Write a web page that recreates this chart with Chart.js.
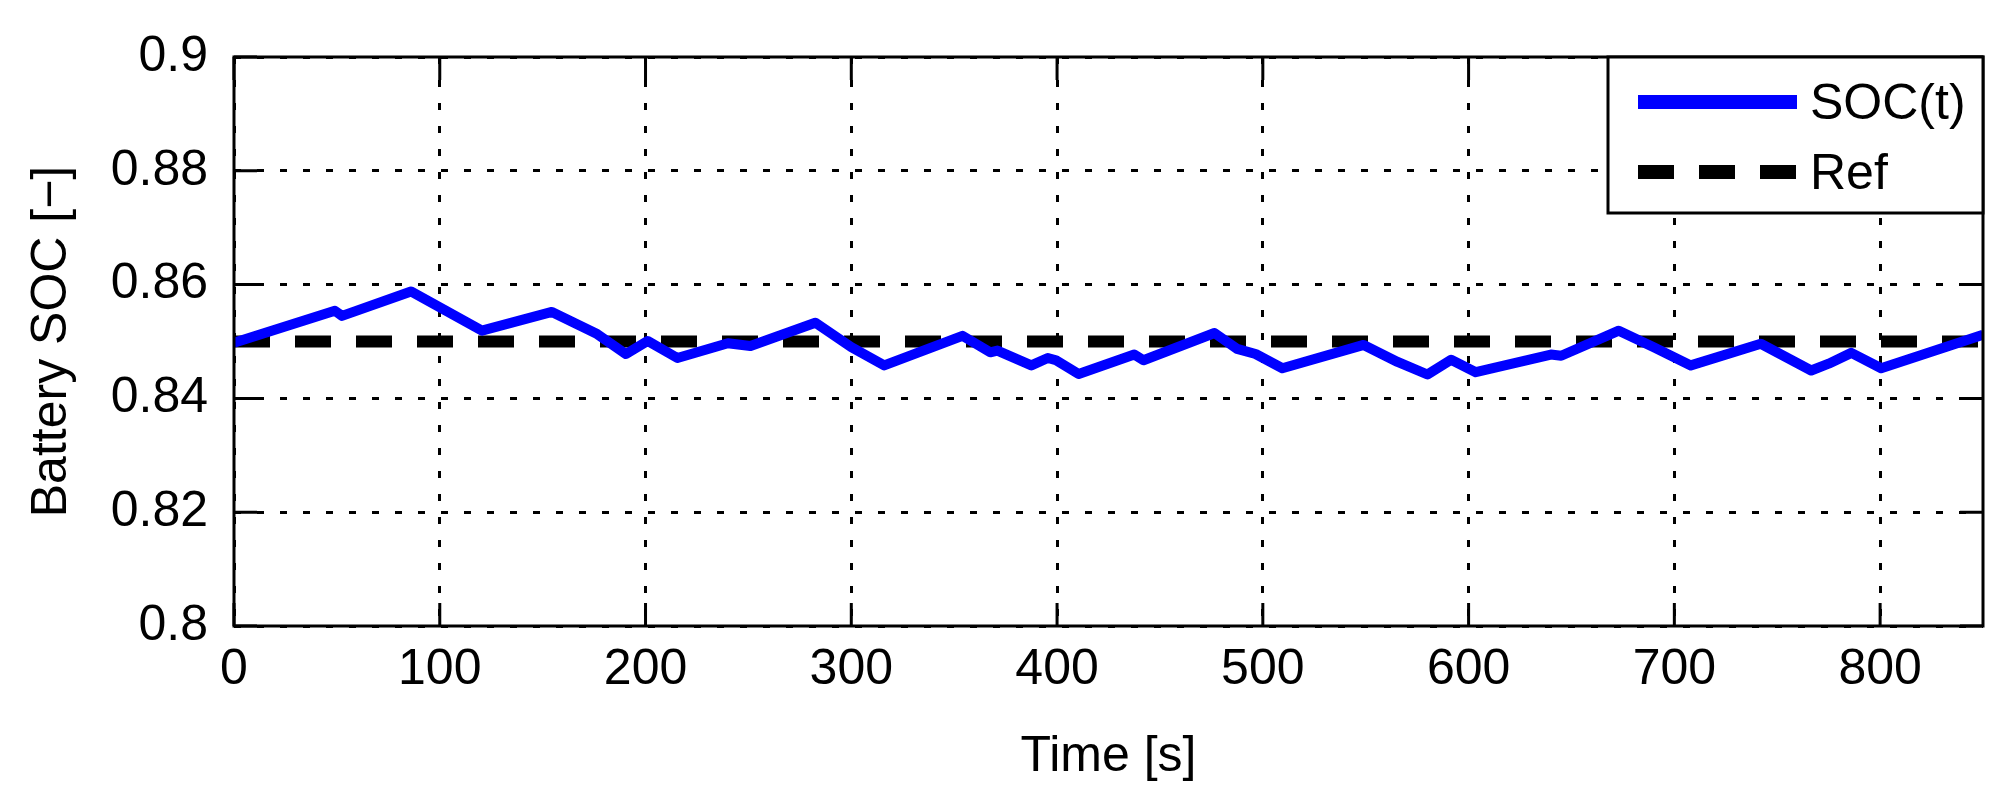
<!DOCTYPE html>
<html>
<head>
<meta charset="utf-8">
<style>
    html, body { margin: 0; padding: 0; background: #fff; }
    #wrap { width: 2003px; height: 807px; }
</style>
<script src="https://cdn.jsdelivr.net/npm/chart.js@4.4.1/dist/chart.umd.min.js"></script>
</head>
<body>
<div id="wrap"><canvas id="socChart" width="2003" height="807"></canvas></div>
<script>
// Data
const timeS = [0, 49, 52.5, 86, 120.5, 154.5, 176.5, 190.5, 201, 215.5, 240, 251, 282.5, 300, 316,
    354, 367.5, 371, 387.5, 395.5, 399.5, 410.5, 437.5, 442, 476.5, 487.5, 496.5, 509.5, 549,
    565.5, 580, 591.5, 603.5, 640, 645, 673, 690, 708, 742, 766.5, 775, 786, 800.5, 850];
const socValues = [0.8498, 0.8554, 0.8545, 0.8588, 0.8519, 0.8552, 0.8513, 0.8478, 0.8501, 0.8471, 0.8497, 0.8492, 0.8533, 0.8490, 0.8458,
    0.8510, 0.8481, 0.8484, 0.8458, 0.8471, 0.8467, 0.8443, 0.8477, 0.8467, 0.8515, 0.8487, 0.8478, 0.8453, 0.8494,
    0.8464, 0.8442, 0.8468, 0.8446, 0.8477, 0.8475, 0.8519, 0.8490, 0.8458, 0.8496, 0.8449, 0.8461, 0.8480, 0.8453, 0.8512];
const refTime = [0, 850];
const refValues = [0.85, 0.85];
const seriesNames = ['SOC(t)', 'Ref'];
const xTickLabels = [0, 100, 200, 300, 400, 500, 600, 700, 800];
const yTickLabels = [0.8, 0.82, 0.84, 0.86, 0.88, 0.9];

const FONT = 'Liberation Sans, Arial, Helvetica, sans-serif';
Chart.defaults.font.family = FONT;
Chart.defaults.color = '#000';

// MATLAB style box, inward tick marks and bordered legend
const boxPlugin = {
    id: 'matlabBox',
    afterDatasetsDraw(chart) {
        const {ctx, chartArea: a, scales} = chart;
        const tick = 23;
        ctx.save();
        ctx.strokeStyle = '#000';
        ctx.lineWidth = 3;
        ctx.beginPath();
        scales.x.ticks.forEach(t => {
            const px = scales.x.getPixelForValue(t.value);
            ctx.moveTo(px, a.bottom); ctx.lineTo(px, a.bottom - tick);
            ctx.moveTo(px, a.top); ctx.lineTo(px, a.top + tick);
        });
        scales.y.ticks.forEach(t => {
            const py = scales.y.getPixelForValue(t.value);
            ctx.moveTo(a.left, py); ctx.lineTo(a.left + tick, py);
            ctx.moveTo(a.right, py); ctx.lineTo(a.right - tick, py);
        });
        ctx.stroke();
        ctx.strokeRect(a.left, a.top, a.right - a.left, a.bottom - a.top);

        // legend
        const lx = 1608, ly = a.top, lw = a.right - 1608, lh = 156;
        ctx.fillStyle = '#fff';
        ctx.fillRect(lx, ly, lw, lh);
        ctx.strokeRect(lx, ly, lw, lh);
        const rows = [45, 115];
        chart.data.datasets.forEach((ds, i) => {
            const y = ly + rows[i];
            ctx.save();
            ctx.strokeStyle = ds.borderColor;
            ctx.lineWidth = 14;
            ctx.lineCap = 'butt';
            ctx.setLineDash(ds.borderDash || []);
            ctx.beginPath();
            ctx.moveTo(lx + 30, y); ctx.lineTo(lx + 189, y);
            ctx.stroke();
            ctx.restore();
            ctx.fillStyle = '#000';
            ctx.font = '50px ' + FONT;
            ctx.textBaseline = 'alphabetic';
            ctx.textAlign = 'left';
            ctx.fillText(ds.label, lx + 202, y + 17);
        });
        ctx.restore();
    }
};

function buildChart() {
    const ctx = document.getElementById('socChart').getContext('2d');
    new Chart(ctx, {
        type: 'line',
        data: {
            datasets: [{
                label: seriesNames[0],
                data: timeS.map((t, i) => ({x: t, y: socValues[i]})),
                borderColor: '#0000ff',
                borderWidth: 10,
                pointRadius: 0,
                tension: 0,
                borderJoinStyle: 'round'
            }, {
                label: seriesNames[1],
                data: refTime.map((t, i) => ({x: t, y: refValues[i]})),
                borderColor: '#000',
                borderWidth: 12,
                borderDash: [36, 25],
                borderCapStyle: 'butt',
                pointRadius: 0,
                tension: 0
            }]
        },
        options: {
            responsive: false,
            animation: false,
            layout: {padding: {top: 57, right: 20, left: 0, bottom: 0}},
            plugins: {legend: {display: false}, tooltip: {enabled: false}},
            scales: {
                x: {
                    type: 'linear',
                    min: 0,
                    max: 850,
                    afterFit: s => { s.height = 181; },
                    afterBuildTicks: s => { s.ticks = xTickLabels.map(v => ({value: v})); },
                    ticks: {
                        includeBounds: false,
                        padding: 14,
                        font: {size: 50},
                        callback: v => String(v)
                    },
                    grid: {color: '#000', lineWidth: 3, drawTicks: false},
                    border: {display: false, dash: [7, 16]},
                    title: {
                        display: true,
                        text: 'Time [s]',
                        font: {size: 50},
                        padding: {top: 4, bottom: 20}
                    }
                },
                y: {
                    min: 0.8,
                    max: 0.9,
                    afterFit: s => { s.width = 234; },
                    afterBuildTicks: s => { s.ticks = yTickLabels.map(v => ({value: v})); },
                    ticks: {
                        padding: 26,
                        font: {size: 50},
                        callback: v => String(Math.round(v * 100) / 100)
                    },
                    grid: {color: '#000', lineWidth: 3, drawTicks: false},
                    border: {display: false, dash: [7, 16]},
                    title: {
                        display: true,
                        text: 'Battery SOC [\u2212]',
                        font: {size: 50},
                        padding: {top: 22, bottom: 22}
                    }
                }
            }
        },
        plugins: [boxPlugin]
    });
}

document.addEventListener('DOMContentLoaded', buildChart);
</script>
</body>
</html>
